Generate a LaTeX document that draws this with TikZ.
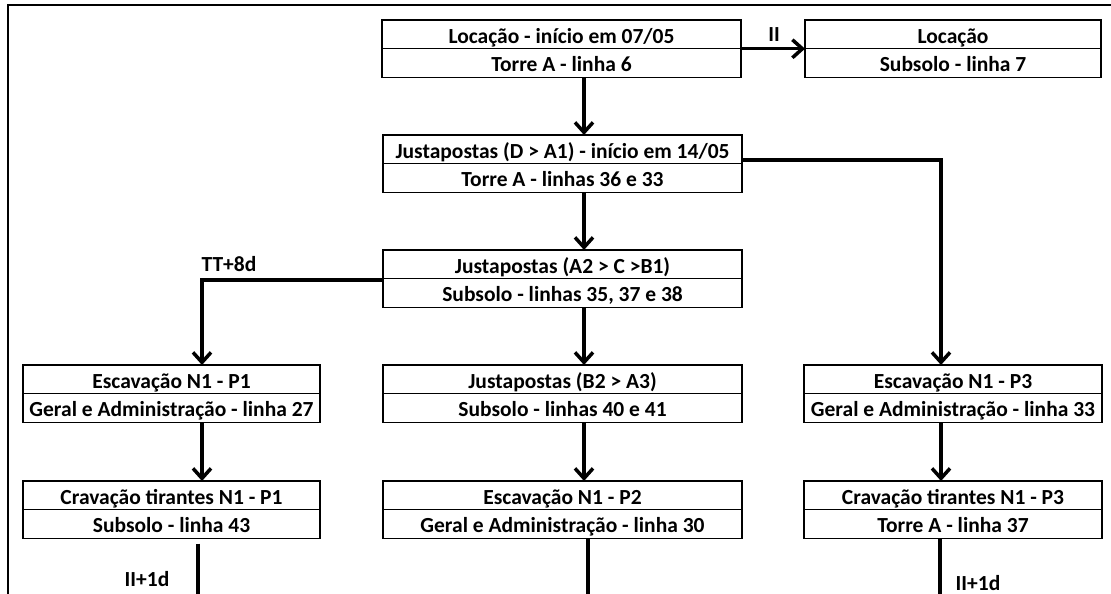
\documentclass[tikz,border=0pt]{standalone}
\usepackage{fontspec}
\setmainfont{Carlito}
\usetikzlibrary{arrows.meta,calc}

\tikzset{
  frame/.style={draw, line width=1.9pt, inner sep=0pt, outer sep=0pt, minimum height=57.5pt},
  midline/.style={line width=1.1pt},
  label/.style={font=\fontsize{21.5}{25}\selectfont\bfseries, inner sep=0pt,
                text height=17.5pt, text depth=0pt},
  link/.style={line width=3.5pt},
  arr/.style={link, -{Straight Barb[length=10pt, width=18pt]}},
}

% name, left x, right x, top y, upper text, lower text
\newcommand\taskbox[6]{%
  \node[frame, minimum width={#3-#2}, anchor=north west] (#1) at (#2,#4) {};
  \draw[midline] (#1.west) -- (#1.east);
  \node[label] (#1-top) at ($(#1.center)!0.5!(#1.north)$) {#5};
  \node[label] (#1-bot) at ($(#1.center)!0.5!(#1.south)$) {#6};
}

\begin{document}
\begin{tikzpicture}[x=1pt, y=-1pt]
\useasboundingbox (0,0) rectangle (1111,594);

% sheet edge
\draw[line width=2.8pt] (8,594) -- (8,5) -- (1111,5);

\taskbox{loc}{382}{741}{20}{Locação - início em 07/05}{Torre A - linha 6}
\taskbox{locsub}{805}{1101}{20}{Locação}{Subsolo - linha 7}
\taskbox{jdA}{383}{742}{135}{Justapostas (D > A1) - início em 14/05}{Torre A - linhas 36 e 33}
\taskbox{jaC}{383}{742}{250}{Justapostas (A2 > C >B1)}{Subsolo - linhas 35, 37 e 38}
\taskbox{escP1}{23}{320}{365}{Escavação N1 - P1}{Geral e Administração - linha 27}
\taskbox{jbA}{383}{742}{365}{Justapostas (B2 > A3)}{Subsolo - linhas 40 e 41}
\taskbox{escP3}{804}{1102}{365}{Escavação N1 - P3}{Geral e Administração - linha 33}
\taskbox{cravP1}{23}{320}{481}{Cravação tirantes N1 - P1}{Subsolo - linha 43}
\taskbox{escP2}{383}{742}{481}{Escavação N1 - P2}{Geral e Administração - linha 30}
\taskbox{cravP3}{804}{1102}{481}{Cravação tirantes N1 - P3}{Torre A - linha 37}

% routing points
\coordinate (xm) at (584,0);
\coordinate (xl) at (202,280);
\coordinate (xr) at (941,160);
\coordinate (endL) at (198,594);
\coordinate (endM) at (588,594);
\coordinate (endR) at (940,594);

% connectors
\draw[arr] (loc.east) -- (locsub.west);
\draw[arr] (loc.south -| xm) -- (jdA.north -| xm);
\draw[arr] (jdA.south -| xm) -- (jaC.north -| xm);
\draw[arr] (jaC.south -| xm) -- (jbA.north -| xm);
\draw[arr] (jbA.south -| xm) -- (escP2.north -| xm);
\draw[arr] (xr -| jdA.east) -- (xr) -- (xr |- escP3.north);
\draw[arr] (xl -| jaC.west) -- (xl) -- (xl |- escP1.north);
\draw[arr] (escP1.south -| xl) -- (cravP1.north -| xl);
\draw[arr] (escP3.south -| xr) -- (cravP3.north -| xr);

% continuing lines
\draw[link] ([yshift=-5pt]cravP1.south -| endL) -- (endL);
\draw[link] (escP2.south -| endM) -- (endM);
\draw[link] (cravP3.south -| endR) -- (endR);

% lags
\node[label] (lagII) at (774,33) {II};
\node[label] (lagTT) at (229,263) {TT+8d};
\node[label] (lagL) at (147,578) {II+1d};
\node[label] (lagR) at (978,582) {II+1d};
\end{tikzpicture}
\end{document}
